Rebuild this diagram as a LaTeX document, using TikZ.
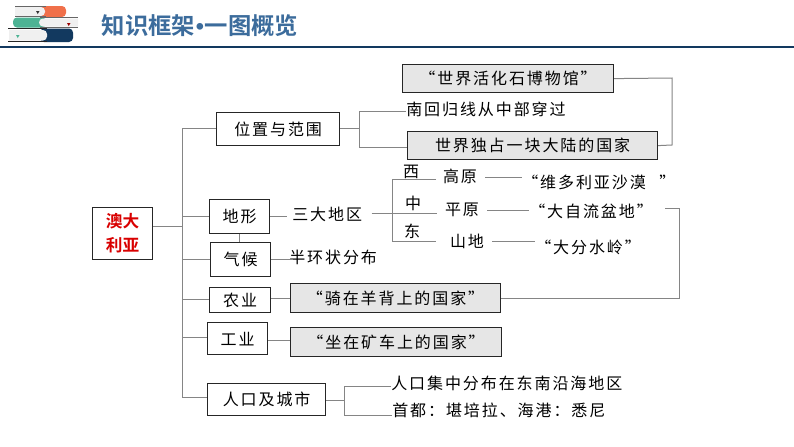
\documentclass[tikz,border=0pt]{standalone}
\usepackage{fontspec}
\newfontfamily\cjk[LetterSpace=12]{Noto Sans CJK SC}
\newfontfamily\cjkb[BoldFont={Noto Sans CJK SC Bold}]{Noto Sans CJK SC}
\newfontfamily\dotfont{Liberation Sans}
\definecolor{titleblue}{HTML}{3C6C9C}
\definecolor{boxgray}{HTML}{E6E6E6}
\definecolor{linegray}{HTML}{858585}
\definecolor{navy}{HTML}{12395F}
\definecolor{bookorange}{HTML}{F0704A}
\definecolor{bookgreen}{HTML}{4DB394}
\definecolor{pagewhite}{HTML}{F0F0F0}
\tikzset{
  x=0.75pt,y=-0.75pt,
  conn/.style={draw=linegray,line width=0.75pt},
  wbox/.style={draw=black!85,fill=white,line width=0.9pt,inner sep=0pt,anchor=north west,font=\cjk\fontsize{12}{14}\selectfont},
  gbox/.style={wbox,fill=boxgray},
  lab/.style={inner sep=0pt,font=\cjk\fontsize{12}{14}\selectfont},
}
\begin{document}
\begin{tikzpicture}
\useasboundingbox (0,0) rectangle (794,447);
% header
\fill[white] (0,0) rectangle (794,447);
\fill[navy] (0,46.2) rectangle (794,47.8);
\node[inner sep=0pt,text=titleblue,font=\cjkb\bfseries\fontsize{17.5}{20}\selectfont] (title) at (200,26) {知识框架{\dotfont\hspace{0.5pt}•\hspace{0.5pt}}一图概览};
% book icon
\fill[bookorange,rounded corners=3pt] (40,6) rectangle (66,17);
\fill[pagewhite] (15,7) [rounded corners=3pt] -- (45,7) -- (45,16) [sharp corners] -- (15,16) -- cycle;
\draw[black!60,line width=0.5pt] (15,6) -- (46,6) (15,16.5) -- (46,16.5);
\fill[bookgreen,rounded corners=3pt] (13,17.5) rectangle (46,27.5);
\fill[pagewhite] (78,18.5) [rounded corners=3pt] -- (39,18.5) -- (39,26.5) [sharp corners] -- (78,26.5) -- cycle;
\draw[black!60,line width=0.5pt] (40,17.5) -- (78,17.5) (40,27.5) -- (78,27.5);
\fill[navy,rounded corners=3pt] (40,28.5) rectangle (73,42);
\fill[pagewhite] (9,30) [rounded corners=3pt] -- (47,30) -- (47,40.5) [sharp corners] -- (9,40.5) -- cycle;
\draw[black!85,line width=0.5pt] (8,28.5) -- (47,28.5) (8,41.5) -- (47,41.5);
\fill[black!80] (36,11) -- (39.5,11) -- (37.75,14) -- cycle;
\fill[red!60!black] (67,23) -- (70.5,23) -- (68.75,26) -- cycle;
\fill[bookgreen] (16,35) -- (19.5,35) -- (17.75,38) -- cycle;
% boxes
\node[wbox,minimum width=60*0.75pt,minimum height=52*0.75pt,text=red!85!black,align=center,font=\cjkb\bfseries\fontsize{12.5}{18}\selectfont] (root) at (92,207) {澳大\\利亚};
\node[wbox,minimum width=123*0.75pt,minimum height=33*0.75pt] (pos) at (216,112) {位置与范围};
\node[wbox,minimum width=60*0.75pt,minimum height=34*0.75pt] (terrain) at (209,199) {地形};
\node[wbox,minimum width=60*0.75pt,minimum height=34*0.75pt] (climate) at (210,242) {气候};
\node[wbox,minimum width=61*0.75pt,minimum height=25*0.75pt] (agri) at (209,287) {农业};
\node[wbox,minimum width=60*0.75pt,minimum height=32*0.75pt] (ind) at (207,322) {工业};
\node[wbox,minimum width=118*0.75pt,minimum height=32*0.75pt] (pop) at (207,383) {人口及城市};
\node[gbox,minimum width=211*0.75pt,minimum height=28*0.75pt] (fossil) at (402,64) {“世界活化石博物馆”};
\node[gbox,minimum width=250*0.75pt,minimum height=28*0.75pt] (only) at (407,131) {世界独占一块大陆的国家};
\node[gbox,minimum width=210*0.75pt,minimum height=29*0.75pt] (sheep) at (290,283) {“骑在羊背上的国家”};
\node[gbox,minimum width=211*0.75pt,minimum height=29*0.75pt] (mine) at (290,327) {“坐在矿车上的国家”};
% labels
\node[lab,anchor=west] (tropic) at (406,109) {南回归线从中部穿过};
\node[lab,anchor=west] (three) at (292,214) {三大地区};
\node[lab,anchor=west] (ring) at (289,257) {半环状分布};
\node[lab] (w) at (411,172) {西};
\node[lab] (m) at (413,203) {中};
\node[lab] (e) at (412,231) {东};
\node[lab] (plateau) at (460,176) {高原};
\node[lab] (plain) at (462,210) {平原};
\node[lab] (mount) at (467,241) {山地};
\node[lab,anchor=west] (desert) at (522,182) {“维多利亚沙漠\ \ \,”};
\node[lab,anchor=west] (basin) at (529,211) {“大自流盆地”};
\node[lab,anchor=west] (range) at (535,247) {“大分水岭”};
\node[lab,anchor=west] (popa) at (391,383) {人口集中分布在东南沿海地区};
\node[lab,anchor=west] (popb) at (392,410) {首都：堪培拉、海港：悉尼};
% connector junctions
\coordinate (t0) at (182,128);
\coordinate (t1) at (182,397);
\coordinate (j) at (182,226);
\coordinate (b1) at (359,128);
\coordinate (b2) at (392,213);
\coordinate (b3) at (344,400);
\coordinate (basinend) at (665,208);
% trunk
\draw[conn] (root.east |- j) -- (j);
\draw[conn] (pos.west |- t0) -- (t0) -- (t1) -- (pop.west |- t1);
\draw[conn] (182,216) -- (terrain.west |- 0,216);
\draw[conn] (182,259) -- (climate.west |- 0,259);
\draw[conn] (182,299) -- (agri.west |- 0,299);
\draw[conn] (182,337) -- (ind.west |- 0,337);
\draw[conn] (terrain.south) -- (terrain.south |- climate.north);
% location
\draw[conn] (pos.east |- b1) -- (b1);
\draw[conn] (tropic.west |- 0,111) -- (b1 |- 0,111) -- (b1 |- 0,147) -- (only.west |- 0,147);
\draw[conn] (fossil.east) -- (672,78) -- (672,145) -- (only.east);
% terrain
\draw[conn,shorten >=3.5pt] (terrain.east |- 0,216) -- (three.west |- 0,216);
\draw[conn,shorten <=7pt] (three.east |- b2) -- (b2);
\draw[conn,shorten <=5pt,shorten >=10pt] (plateau.west |- 0,179) -- (392,179) -- (392,241) -- (mount.west |- 0,241);
\draw[conn,shorten >=6pt] (b2) -- (plain.west |- b2);
\draw[conn,shorten <=6pt,shorten >=0pt] (plateau.east |- 0,177) -- (desert.west |- 0,177);
\draw[conn,shorten <=6pt,shorten >=0pt] (plain.east) -- (basin.west |- plain.east);
\draw[conn,shorten <=6pt,shorten >=0pt] (mount.east) -- (range.west |- mount.east);
% climate
\draw[conn] (climate.east) -- (ring.west |- climate.east) -- ++(4,0);
% agriculture, industry
\draw[conn] (agri.east |- sheep.east) -- (sheep.west);
\draw[conn] (ind.east |- 0,340) -- (mine.west |- 0,340);
\draw[conn] (sheep.east) -- (sheep.east -| 679,0) -- (679,208) -- (basinend);
% population
\draw[conn] (pop.east |- b3) -- (b3);
\draw[conn] (popa.west |- 0,386) -- (344,386) -- (344,415) -- (popb.west |- 0,415);
\end{tikzpicture}
\end{document}
